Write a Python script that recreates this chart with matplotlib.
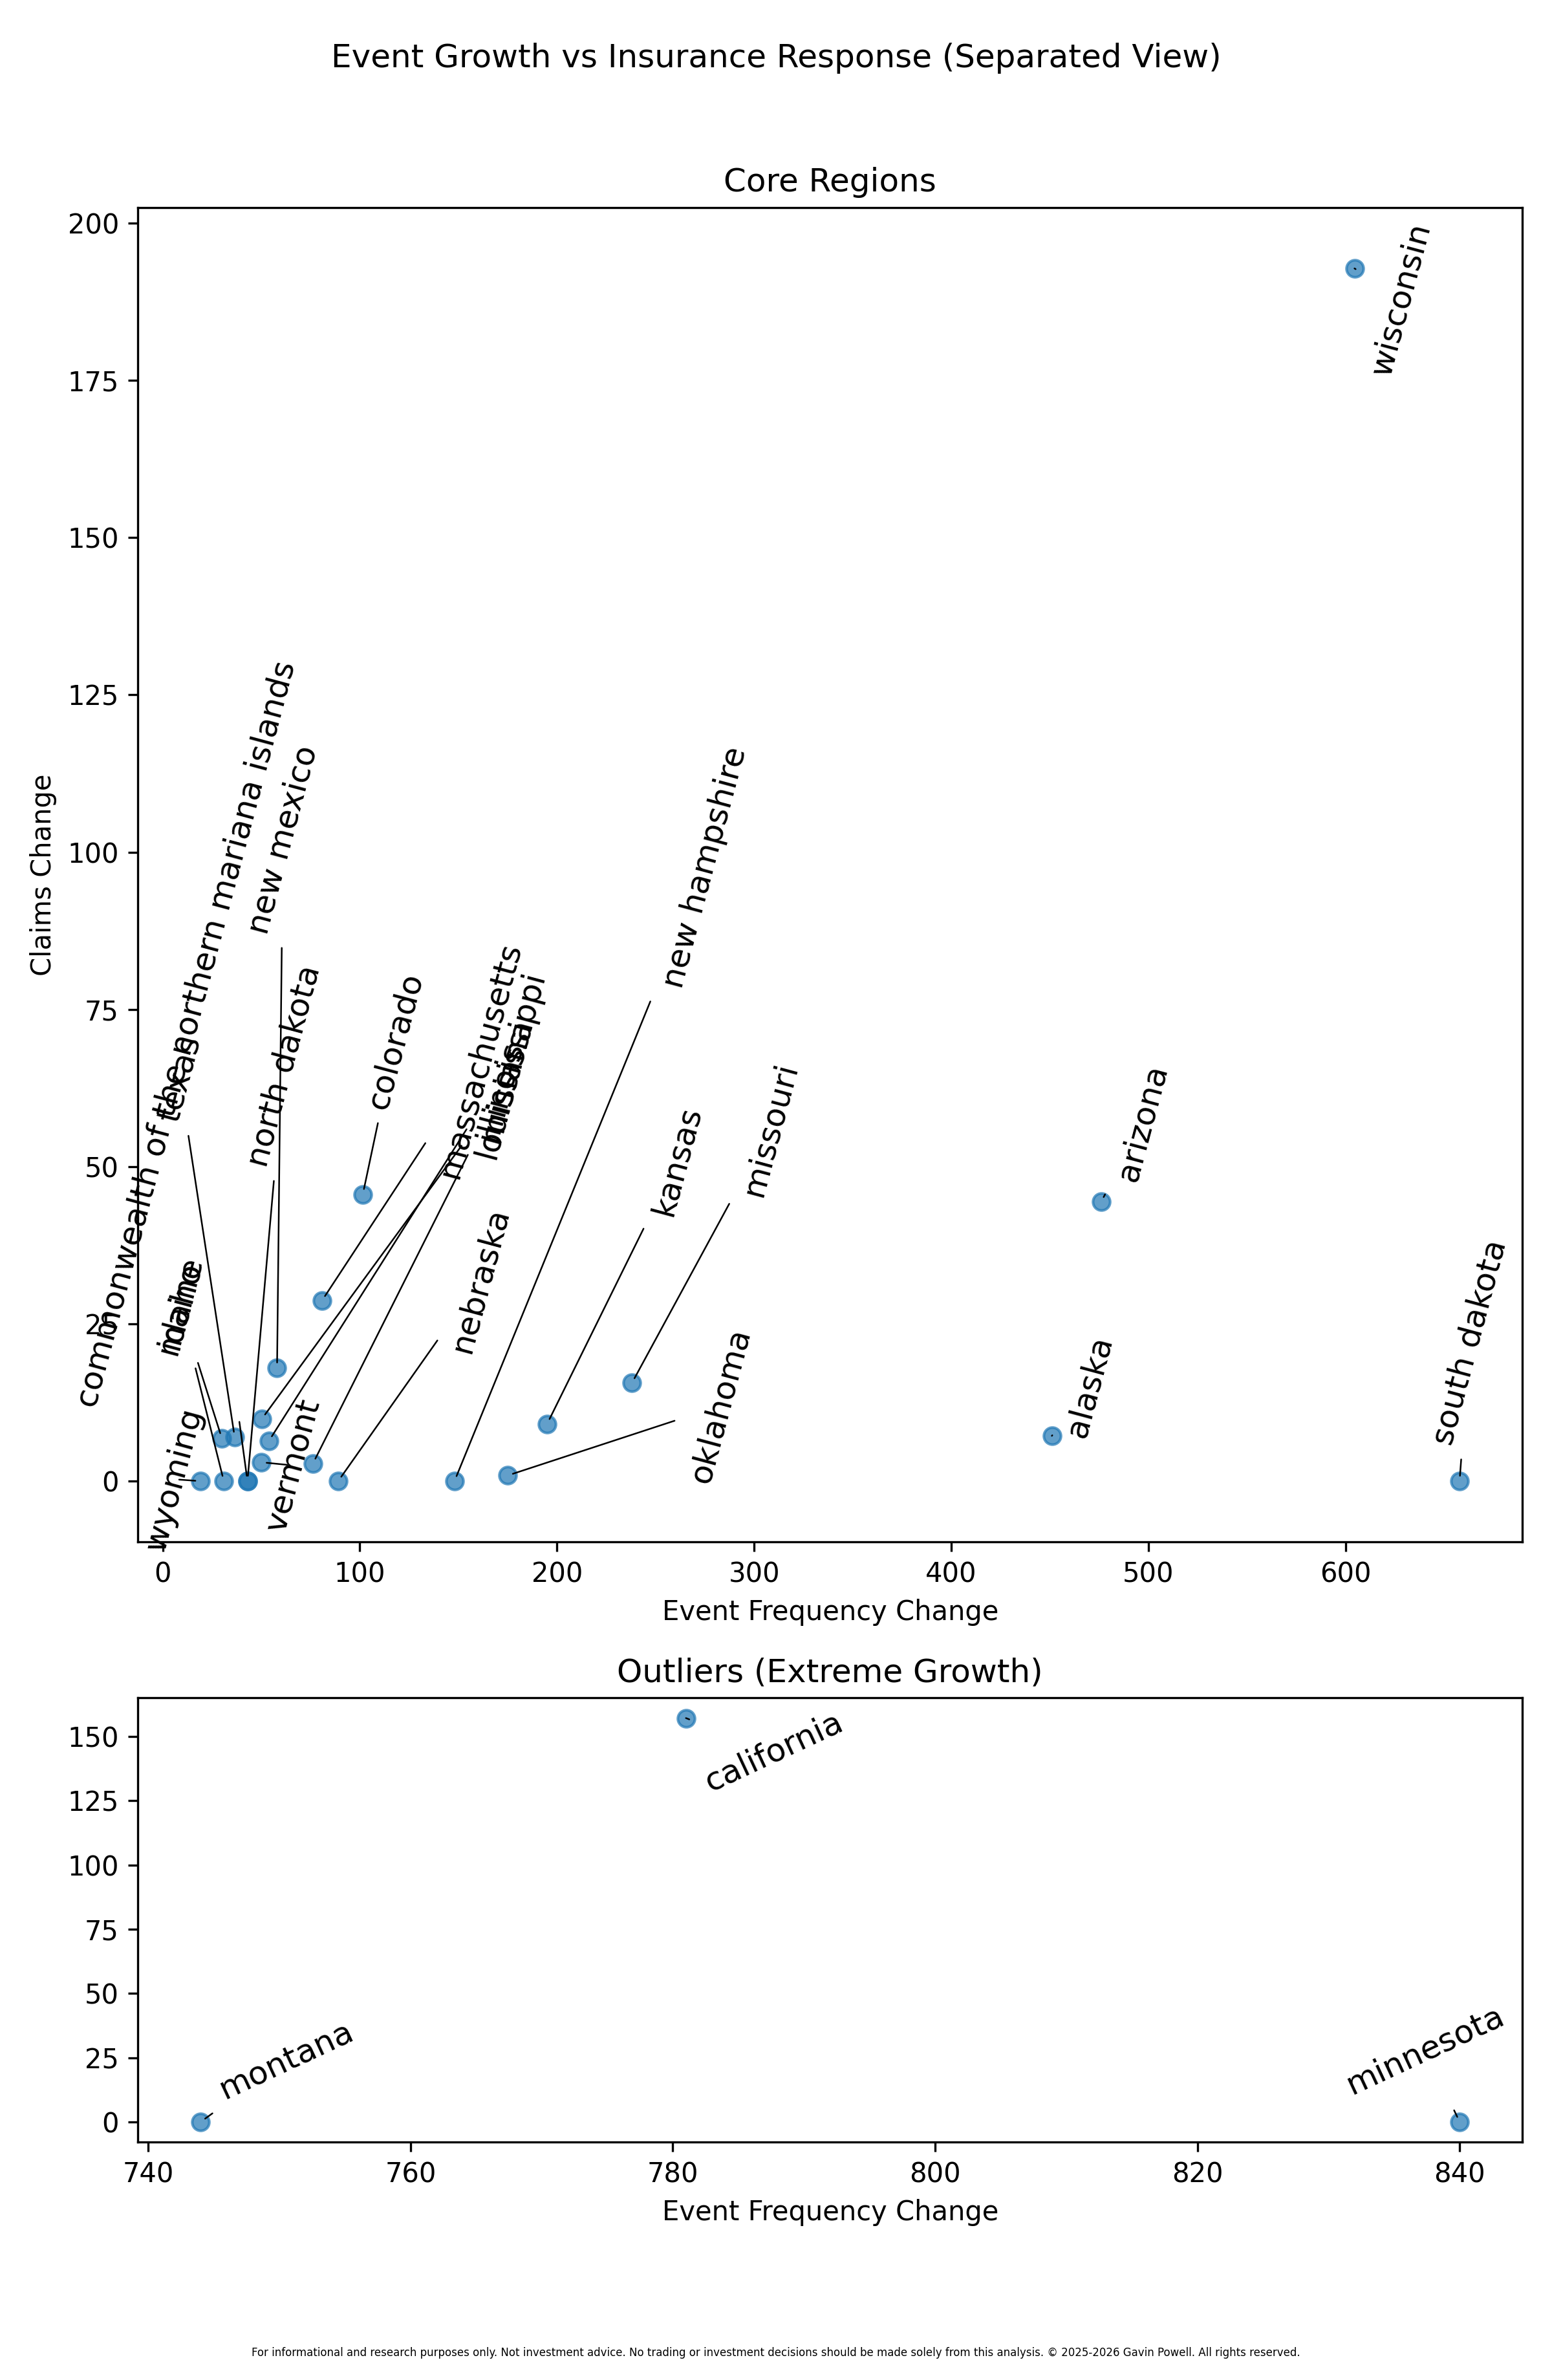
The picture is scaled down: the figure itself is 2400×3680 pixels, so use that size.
import matplotlib
matplotlib.use("Agg")
import matplotlib.pyplot as plt

# ---------------- data ----------------
core_states = ["wisconsin", "arizona", "alaska", "south dakota", "missouri", "kansas",
               "oklahoma", "new hampshire", "nebraska", "vermont", "colorado",
               "north dakota", "new mexico", "commonwealth of the northern mariana islands",
               "texas", "idaho", "maine", "wyoming", "massachusetts", "louisiana",
               "mississippi", "illinois"]
core_event = [604.5, 476, 451, 657.8, 238, 195, 175, 148, 89, 50, 101.5,
              43, 58, 43, 36.5, 30, 31, 19.3, 80.8, 50.3, 53.9, 76.2]
core_claims = [192.8, 44.4, 7.2, 0, 15.6, 9.1, 0.9, 0, 0, 3, 45.6,
               0, 18, 0, 7, 6.8, 0, 0, 28.7, 9.9, 6.4, 2.8]

out_states = ["montana", "california", "minnesota"]
out_event = [744, 781, 840]
out_claims = [0, 157.2, 0]

# label text positions (data coords), placed like the reference
core_label_pos = [(628, 188), (497, 57), (470, 15), (663, 22), (308, 56), (261, 51),
                  (283, 12), (275, 97.5), (161, 32), (66, 2.5), (118, 70),
                  (61.5, 66), (61, 102), (12, 71),
                  (8.6, 64), (8.6, 28), (8.6, 28), (5.6, 0.3), (161, 67), (173, 62.5),
                  (177.5, 67.5), (171, 62)]
out_label_pos = [(750.5, 24), (787.7, 144), (837.4, 28)]

footer = ("For informational and research purposes only. Not investment advice. "
          "No trading or investment decisions should be made solely from this analysis. "
          "\u00a9 2025-2026 Gavin Powell. All rights reserved.")

# ---------------- figure ----------------
fig = plt.figure(figsize=(8, 12.2667), dpi=300)
ax1 = fig.add_axes([0.0888, 0.3522, 0.981 - 0.0888, 0.9127 - 0.3522])
ax2 = fig.add_axes([0.0888, 0.1000, 0.981 - 0.0888, 0.2866 - 0.1000])

pt_color = "#1f77b4"
arrow = dict(arrowstyle="-", color="black", lw=0.6)

ax1.scatter(core_event, core_claims, s=40, alpha=0.7, color=pt_color)
for name, x, y, (tx, ty) in zip(core_states, core_event, core_claims, core_label_pos):
    ax1.annotate(name, xy=(x, y), xytext=(tx, ty), textcoords="data",
                 rotation=75, ha="center", va="center", fontsize=12,
                 arrowprops=arrow)
ax1.set_title("Core Regions", fontsize=12)
ax1.set_xlabel("Event Frequency Change")
ax1.set_ylabel("Claims Change")

ax2.scatter(out_event, out_claims, s=40, alpha=0.7, color=pt_color)
for name, x, y, (tx, ty) in zip(out_states, out_event, out_claims, out_label_pos):
    ax2.annotate(name, xy=(x, y), xytext=(tx, ty), textcoords="data",
                 rotation=25, ha="center", va="center", fontsize=12,
                 arrowprops=arrow)
ax2.set_title("Outliers (Extreme Growth)", fontsize=12)
ax2.set_xlabel("Event Frequency Change")

fig.suptitle("Event Growth vs Insurance Response (Separated View)", fontsize=12, y=0.982)
fig.text(0.5, 0.0115, footer, ha="center", va="center", fontsize=4)

fig.savefig("out.png", dpi=300)
